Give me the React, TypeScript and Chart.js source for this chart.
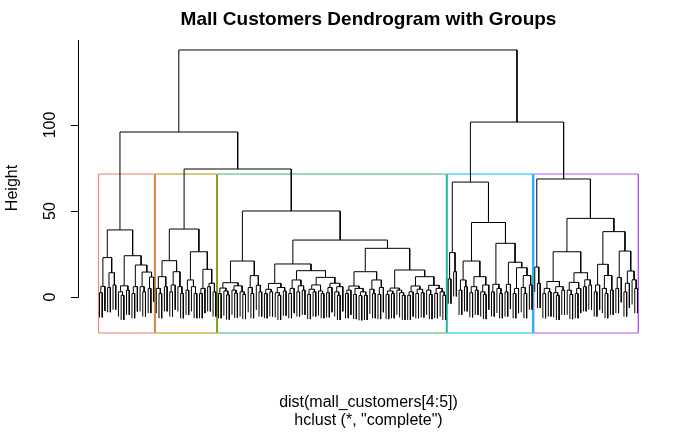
import { useEffect, useRef } from "react";
import { Chart, registerables } from "chart.js";

Chart.register(...registerables);

type Node = number | [number, Node, Node];

// ---- data: dendrogram subtrees (leaf = 0, node = [height, left, right]) ----
const redGroup: Node = [39,
  [22.9, [6.2, [2.5, 0, 0], 0], [14.1, [5.5, 0, 0], [7, 0, 0]]],
  [24,
    [6.5, [3, 0, [1, 0, 0]], [4, 0, 0]],
    [18.6, [6, [2, 0, 0], 0], [14.5, [6, 0, [3, 0, 0]], [11.6, [5, 0, 0], 0]]]]];

const oliveGroup: Node = [39.5,
  [21.1, [11.8, [5, 0, [2, 0, 0]], [6, 0, 0]], [14.7, [7, [3, 0, 0], 0], [6, 0, [2, 0, 0]]]],
  [26.3, [9.9, [4, 0, 0], [6, 0, [2, 0, 0]]], [16.1, [5, [2, 0, 0], 0], [8, [6, 0, 0], [3, 0, 0]]]]];

const greenLeft: Node = [20.9,
  [8.3, [5.2, [2, 0, 0], [3.5, 0, [1.2, 0, 0]]], [6.5, [4, 0, [2.2, 0, 0]], [3, 0, [1.5, 0, 0]]]],
  [12.4, [5.5, 0, [2, 0, 0]], [6.8, 0, [3, 0, 0]]]];

const greenRightA: Node = [19.2,
  [7.9, [4.5, [2, 0, 0], [3, 0, 0]], [5.5, [2.5, 0, [1, 0, 0]], [3.5, 0, 0]]],
  [15.3,
    [9.9, [5, [2, 0, 0], 0], [6.5, [3, 0, 0], [4, 0, 0]]],
    [11.4, [7, [4.5, [1.5, 0, 0], [3, 0, 0]], [3.5, 0, [2, 0, 0]]], [8, [5.5, [2.5, 0, 0], 0], [6, [3, 0, [1, 0, 0]], 0]]]]];

const greenRightB: Node = [28.3,
  [14.7,
    [6.4, [4, [2, 0, 0], 0], [5, [1.5, 0, 0], [3, [0.8, 0, 0], [1, 0, 0]]]],
    [9.9, [4.5, 0, [2, 0, 0]], [5.5, [1.5, 0, 0], 0]]],
  [15.7,
    [5.2, [3.5, [1.5, 0, 0], [2, 0, 0]], [4, 0, [2.5, 0, [1, 0, 0]]]],
    [11.8, [6.4, [3, [1, 0, 0], 0], [4.5, [2, 0, 0], [2.5, 0, 0]]], [6.8, [4, 0, [1.5, 0, 0]], [5, [2, 0, 0], [3, 0, [1, 0, 0]]]]]]];

const greenGroup: Node = [50, greenLeft, [33.1, greenRightA, greenRightB]];

const blueGroup: Node = [66.8,
  [25.8, [10.5, 0, 0], [14.7, 0, 0]],
  [43.3,
    [20.9, [9.9, [4, 0, 0], [6, 0, 0]], [11.8, [6, [2.5, 0, 0], [4, 0, 0]], [7, [3, 0, [1.5, 0, 0]], 0]]],
    [31.2,
      [7.4, [3, 0, 0], [5, 0, [2, 0, 0]]],
      [20.2, [7.4, [3, 0, 0], 0], [17, [5, [2, 0, 0], 0], [12.5, [5.5, 0, [2, 0, 0]], [7, 0, 0]]]]]]];

const purpleGroup: Node = [68.6,
  [17.4, 0, [8, 0, 0]],
  [45.7,
    [26.3,
      [9, [5, [2, 0, 0], [3, 0, 0]], [6, [2.5, 0, [1, 0, 0]], [4, 0, 0]]],
      [14.1, [8.5, [4, 0, [1.5, 0, 0]], [5, [2, 0, 0], 0]], [10, [6, 0, 0], [7, 0, 0]]]],
    [38,
      [19, [7, [3, 0, 0], 0], [12.5, [5, 0, [2, 0, 0]], [4, 0, 0]]],
      [26.7, [11.3, [5, 0, 0], 0], [15.1, [8, [3, 0, 0], 0], [10, 0, [5, 0, 0]]]]]]];

// upper merges: root, red+(olive+green), olive+green, blue+purple
const upperHeights = [143.6, 95.9, 74.4, 101.7];
const groupColors = ["#F8766D", "#A39A00", "#3CB46E", "#00BEF2", "#B452F5"];
const yTicks = [0, 50, 100];
const cutHeight = 71.5;
const hang = 14.36;

const titleText = "Mall Customers Dendrogram with Groups";
const yTitle = "Height";
const xTitle = "dist(mall_customers[4:5])";
const subTitle = 'hclust (*, "complete")';

const FONT = '"Liberation Sans", Arial, Helvetica, sans-serif';

function countLeaves(n: Node): number {
  return typeof n === "number" ? 1 : countLeaves(n[1]) + countLeaves(n[2]);
}

function buildTree(): Node {
  const [hRoot, hLeft, hMid, hRight] = upperHeights;
  return [hRoot, [hLeft, redGroup, [hMid, oliveGroup, greenGroup]], [hRight, blueGroup, purpleGroup]];
}

export default function App() {
  const ref = useRef<HTMLCanvasElement>(null);

  useEffect(() => {
    const canvas = ref.current;
    if (!canvas) return;

    const tree = buildTree();
    const segs: { x: number; y: number }[] = [];
    let leaf = 0;
    const walk = (n: Node): { x: number; h: number; leaf: boolean } => {
      if (typeof n === "number") {
        leaf += 1;
        return { x: leaf, h: 0, leaf: true };
      }
      const [h, a, b] = n;
      const L = walk(a);
      const R = walk(b);
      const ly = L.leaf ? h - hang : L.h;
      const ry = R.leaf ? h - hang : R.h;
      segs.push({ x: L.x, y: ly }, { x: L.x, y: h }, { x: R.x, y: h }, { x: R.x, y: ry }, { x: R.x, y: NaN });
      return { x: (L.x + R.x) / 2, h, leaf: false };
    };
    walk(tree);

    const yMin = -20.93;
    const yMax = 149.4;
    const groups = [redGroup, oliveGroup, greenGroup, blueGroup, purpleGroup];
    let cum = 0;
    const rectSets = groups.map((g, i) => {
      const n = countLeaves(g);
      const x1 = cum + 0.66;
      const x2 = cum + n + 0.33;
      cum += n;
      return {
        data: [
          { x: x1, y: yMin },
          { x: x1, y: cutHeight },
          { x: x2, y: cutHeight },
          { x: x2, y: yMin },
          { x: x1, y: yMin },
        ],
        showLine: true,
        borderColor: groupColors[i],
        borderWidth: 1,
        pointRadius: 0,
        clip: false as any,
      };
    });

    const textPlugin = {
      id: "rtext",
      afterDraw(chart: any) {
        const ctx = chart.ctx as CanvasRenderingContext2D;
        const ys = chart.scales.y;
        const area = chart.chartArea;
        const ax = 78;
        ctx.save();
        ctx.strokeStyle = "#000";
        ctx.lineWidth = 1;
        ctx.beginPath();
        ctx.moveTo(ax + 0.5, Math.round(ys.getPixelForValue(yTicks[0])) + 0.5);
        ctx.lineTo(ax + 0.5, area.top);
        for (const t of yTicks) {
          const py = Math.round(ys.getPixelForValue(t)) + 0.5;
          ctx.moveTo(ax + 0.5, py);
          ctx.lineTo(ax - 7, py);
        }
        ctx.stroke();
        ctx.fillStyle = "#000";
        ctx.font = `16px ${FONT}`;
        ctx.textAlign = "center";
        ctx.textBaseline = "middle";
        for (const t of yTicks) {
          const py = ys.getPixelForValue(t);
          ctx.save();
          ctx.translate(51, py);
          ctx.rotate(-Math.PI / 2);
          ctx.fillText(String(t), 0, 0);
          ctx.restore();
        }
        ctx.save();
        ctx.translate(13, 188);
        ctx.rotate(-Math.PI / 2);
        ctx.fillText(yTitle, 0, 0);
        ctx.restore();
        const cx = (area.left + area.right) / 2;
        ctx.fillText(xTitle, cx, 403);
        ctx.fillText(subTitle, cx, 421);
        ctx.font = `bold 19px ${FONT}`;
        ctx.fillText(titleText, cx, 20);
        ctx.restore();
      },
    };

    const chart = new Chart(canvas, {
      type: "scatter",
      data: {
        datasets: [
          {
            data: segs,
            showLine: true,
            borderColor: "#000",
            borderWidth: 1,
            pointRadius: 0,
            spanGaps: false,
          } as any,
          ...(rectSets as any[]),
        ],
      },
      options: {
        animation: false,
        responsive: false,
        events: [],
        layout: { padding: { left: 78, right: 41, top: 40, bottom: 99 } },
        scales: {
          x: { type: "linear", display: false, min: -6.96, max: 207.96 },
          y: { type: "linear", display: false, min: yMin, max: yMax },
        },
        plugins: { legend: { display: false }, tooltip: { enabled: false }, title: { display: false } },
      },
      plugins: [textPlugin],
    });
    return () => chart.destroy();
  }, []);

  return (
    <div style={{ position: "fixed", left: 0, top: 0, width: 700, height: 432, background: "#fff" }}>
      <canvas ref={ref} width={700} height={432} />
    </div>
  );
}
